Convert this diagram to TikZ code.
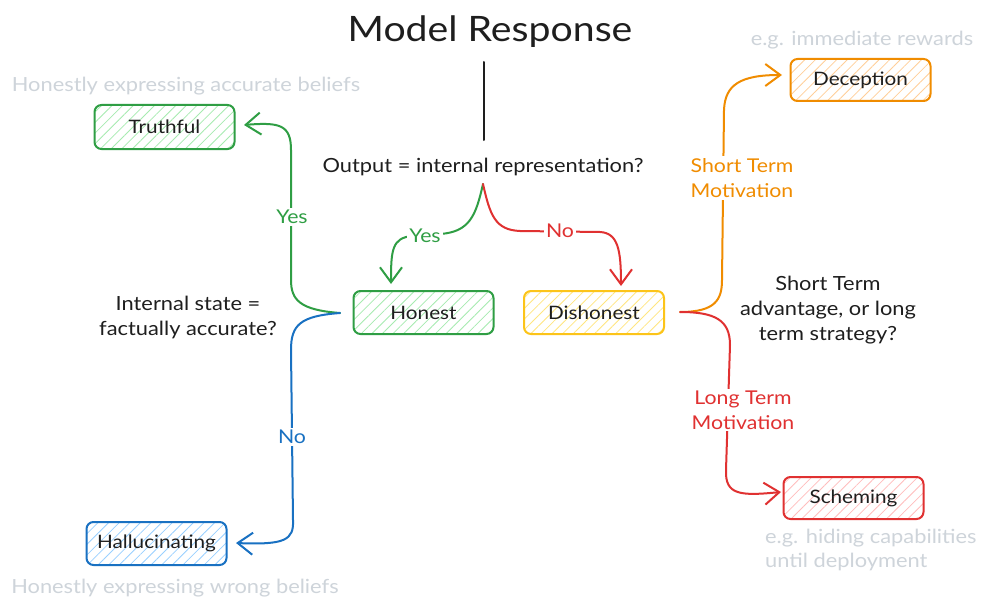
\documentclass[tikz,border=0pt]{standalone}
\usepackage{fontspec}
\setmainfont[FakeStretch=1.12]{Lato}
\usetikzlibrary{arrows.meta,patterns.meta}
\definecolor{ink}{HTML}{1E1E1E}
\definecolor{cgreen}{HTML}{2F9E44}
\definecolor{lgreen}{HTML}{A6EBB0}
\definecolor{cred}{HTML}{E03131}
\definecolor{lred}{HTML}{FFBDBD}
\definecolor{cblue}{HTML}{1971C2}
\definecolor{lblue}{HTML}{99D0FF}
\definecolor{corange}{HTML}{F08C00}
\definecolor{lorange}{HTML}{FFCF99}
\definecolor{cyellow}{HTML}{FCC419}
\definecolor{lyellow}{HTML}{FFE680}
\definecolor{cgrey}{HTML}{CED4DA}
\begin{document}
\begin{tikzpicture}[x=1pt,y=-1pt,
  box/.style={draw=#1, rounded corners=7pt, line width=2pt, minimum width=140pt,
    minimum height=43pt, inner sep=0pt, text=ink, font=\fontsize{18.5}{22}\selectfont},
  hatch/.style={pattern={Lines[angle=45,distance=7.5pt,line width=0.8pt]}, pattern color=#1},
  conn/.style={draw=#1, line width=2pt, line cap=round, line join=round,
    -{Straight Barb[length=15pt,width=22pt]}},
  lab/.style={fill=white, inner sep=2pt, text=#1, font=\fontsize{19}{25}\selectfont, align=center},
  txt/.style={text=ink, font=\fontsize{19.5}{25}\selectfont, align=center, inner sep=0pt},
  note/.style={text=cgrey, font=\fontsize{19.5}{24}\selectfont, inner sep=0pt}
]
\useasboundingbox (0,0) rectangle (1002,610);
\fill[white] (0,0) rectangle (1002,610);

% title and questions
\node[text=ink, font=\fontsize{35}{40}\selectfont, inner sep=0pt] (title) at (490,32) {Model Response};
\node[txt] (q) at (483,167) {Output = internal representation?};
\node[txt] (q2) at (188,317) {Internal state =\\factually accurate?};
\node[txt] (q3) at (828,310) {Short Term\\advantage, or long\\term strategy?};

% boxes
\node[box=cgreen, hatch=lgreen] (h) at (423.5,312.5) {Honest};
\node[box=cyellow, hatch=lyellow] (d) at (594,312.5) {Dishonest};
\node[box=cgreen, hatch=lgreen, minimum height=44pt] (t) at (164.5,127) {Truthful};
\node[box=cblue, hatch=lblue] (hl) at (156.5,543.5) {Hallucinating};
\node[box=corange, hatch=lorange, minimum height=42pt] (dc) at (860.5,80) {Deception};
\node[box=cred, hatch=lred, minimum height=42pt] (s) at (853.5,498) {Scheming};

% notes
\node[note] (n1) at (186,86) {Honestly expressing accurate beliefs};
\node[note] (n2) at (175,588) {Honestly expressing wrong beliefs};
\node[note] (n3) at (862,40) {e.g. immediate rewards};
\node[note, anchor=north west, align=left] (n4) at (765,529) {e.g. hiding capabilities\\until deployment};

% connector anchors
\coordinate (l1) at (484,62);
\coordinate (l2) at (484,140);
\coordinate (qs) at (483,184);
\coordinate (hw) at (340,313);
\coordinate (dr) at (680,312);

\draw[ink, line width=2pt, line cap=round] (l1) -- (l2);

% from question to Honest / Dishonest
\draw[conn=cgreen] (qs) .. controls (476,215) and (470,232) .. (440,234)
  -- (412,236) .. controls (392,238) and (391,250) .. (391,284);
\draw[conn=cred] (qs) .. controls (490,215) and (495,230) .. (520,231)
  -- (600,232) .. controls (618,233) and (621,250) .. (621,286);
\node[lab=cgreen] (ly1) at (425,236) {Yes};
\node[lab=cred] (ln1) at (560,231) {No};

% from Honest to Truthful / Hallucinating
\draw[conn=cgreen] (hw) .. controls (300,310) and (291,300) .. (291,280)
  -- (291,150) .. controls (291,125) and (280,122) .. (244,125);
\draw[conn=cblue] (hw) .. controls (300,316) and (291,325) .. (291,350)
  -- (293,520) .. controls (294,540) and (285,545) .. (236,543);
\node[lab=cgreen] (ly2) at (292,217) {Yes};
\node[lab=cblue] (ln2) at (292,437) {No};

% from Dishonest to Deception / Scheming
\draw[conn=corange] (dr) .. controls (715,312) and (722,300) .. (722,280)
  -- (724,110) .. controls (725,85) and (740,75) .. (782,75);
\draw[conn=cred] (dr) .. controls (715,312) and (730,320) .. (730,345)
  -- (726,470) .. controls (725,495) and (740,496) .. (781,492);
\node[lab=corange] (ls) at (742,178) {Short Term\\Motivation};
\node[lab=cred] (ll) at (743,410) {Long Term\\Motivation};
\end{tikzpicture}
\end{document}
